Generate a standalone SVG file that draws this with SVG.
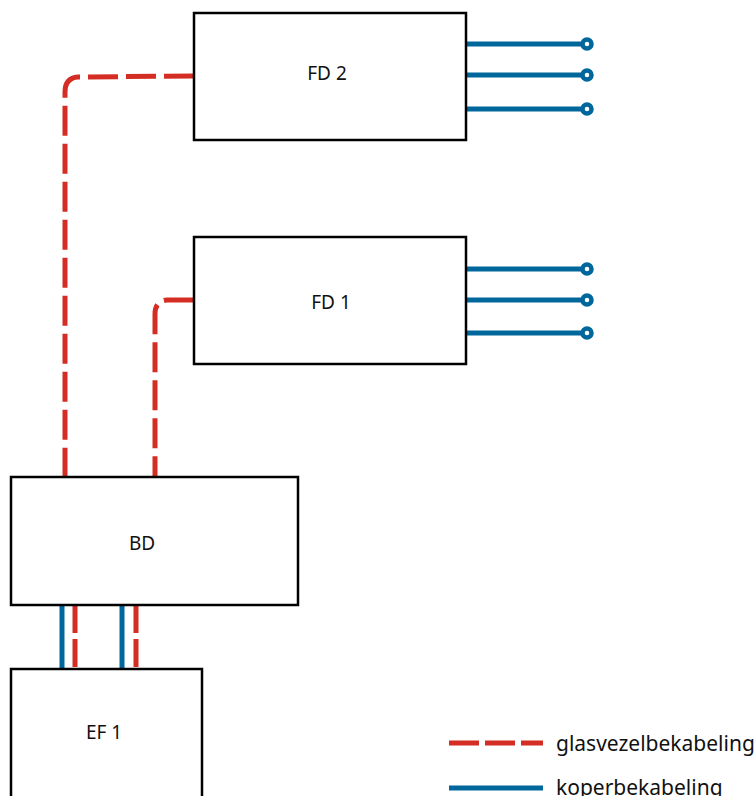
<svg xmlns="http://www.w3.org/2000/svg" width="756" height="796" viewBox="0 0 756 796">
<style>
.box{fill:#fff;stroke:#000;stroke-width:2.5}
.lbl{font-family:"Noto Sans",sans-serif;font-size:19px;fill:#111;text-anchor:middle}
.leg{font-family:"Noto Sans",sans-serif;font-size:21px;fill:#111}
.fib{fill:none;stroke:#d42e24;stroke-width:5;stroke-dasharray:30 8}
.cu{fill:none;stroke:#00679c;stroke-width:5}
.dot{fill:#fff;stroke:#00679c;stroke-width:4.5}
</style>
<rect width="756" height="796" fill="#fff"/>
<g id="connectors">
<path class="fib" d="M194,76 L78,77 Q65,78 65,92 L65,477"/>
<path class="fib" d="M194,300 L167,300 Q155,301 155,314 L155,477"/>
<path class="cu" d="M62,605 V669 M122,605 V669"/>
<path class="fib" d="M75,605 V669 M136,605 V669" style="stroke-dasharray:28 6"/>
<path class="cu" d="M466,44 H582 M466,75 H582 M466,109 H582 M466,269 H582 M466,300 H582 M466,333 H582"/>
<circle class="dot" cx="587" cy="44" r="4.5"/>
<circle class="dot" cx="587" cy="75" r="4.5"/>
<circle class="dot" cx="587" cy="109" r="4.5"/>
<circle class="dot" cx="587" cy="269" r="4.5"/>
<circle class="dot" cx="587" cy="300" r="4.5"/>
<circle class="dot" cx="587" cy="333" r="4.5"/>
</g>
<g id="FD2"><rect class="box" x="194" y="13" width="272" height="127"/><text class="lbl" x="327" y="80">FD 2</text></g>
<g id="FD1"><rect class="box" x="194" y="237" width="272" height="127"/><text class="lbl" x="331" y="309">FD 1</text></g>
<g id="BD"><rect class="box" x="11" y="477" width="287" height="128"/><text class="lbl" x="142" y="550">BD</text></g>
<g id="EF1"><rect class="box" x="11" y="669" width="191" height="140"/><text class="lbl" x="104" y="739">EF 1</text></g>
<g id="legend">
<path class="fib" d="M449,743 H543" style="stroke-dasharray:30 6"/>
<text class="leg" x="556" y="751">glasvezelbekabeling</text>
<path class="cu" d="M449,788 H543"/>
<text class="leg" x="556" y="795">koperbekabeling</text>
</g>
</svg>
